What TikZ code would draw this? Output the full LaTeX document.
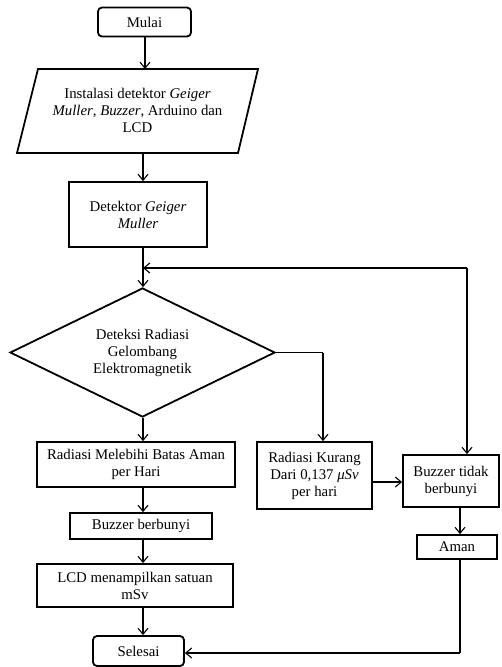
\documentclass[tikz,border=0pt]{standalone}
\usepackage{fontspec}
\setmainfont{Liberation Serif}
\usetikzlibrary{shapes.geometric,arrows.meta}
\begin{document}
\begin{tikzpicture}[x=1pt,y=-1pt,
  every node/.style={font=\fontsize{14.8}{17}\selectfont, align=center, inner sep=0pt},
  box/.style={draw, line width=1.8pt, rectangle},
  term/.style={box, rounded corners=4pt},
  arr/.style={line width=1.1pt, -{Straight Barb[length=6pt,width=10pt,line width=1.1pt]}},
  ln/.style={line width=1.1pt}]
\useasboundingbox (0,0) rectangle (501,667);
\node[term, minimum width=93pt, minimum height=29pt] (mulai) at (144.5,22) {Mulai};
% parallelogram
\coordinate (pTL) at (38,69);
\coordinate (pTR) at (258,69);
\coordinate (pBR) at (238,153);
\coordinate (pBL) at (17,153);
\draw[line width=1.8pt, line join=miter] (pTL) -- (pTR) -- (pBR) -- (pBL) -- cycle;
\node (inst) at (137.5,110) {Instalasi detektor \textit{Geiger}\\ \textit{Muller}, \textit{Buzzer}, Arduino dan\\ LCD};
\node[box, minimum width=138pt, minimum height=65pt] (det) at (138,214.5) {Detektor \textit{Geiger}\\ \textit{Muller}};
\node[draw, line width=1.8pt, diamond, aspect=2, minimum width=265pt, minimum height=129pt] (dec) at (142.5,352.5) {Deteksi Radiasi\\ Gelombang\\ Elektromagnetik};
\node[box, minimum width=198pt, minimum height=45pt] (b1) at (136,464.5) {Radiasi Melebihi Batas Aman\\ per Hari};
\node[box, minimum width=115pt, minimum height=67pt] (b2) at (314.5,475.5) {Radiasi Kurang\\ Dari 0,137 \textit{μSv}\\ per hari};
\node[box, minimum width=96pt, minimum height=52pt] (b3) at (451,481) {Buzzer tidak\\ berbunyi};
\node[box, minimum width=142pt, minimum height=26pt] (buz) at (141,526) {Buzzer berbunyi};
\node[box, minimum width=196pt, minimum height=43pt] (lcd) at (135,585.5) {LCD menampilkan satuan\\ mSv};
\node[box, minimum width=80pt, minimum height=24pt] (aman) at (457,547) {Aman};
\node[term, minimum width=91pt, minimum height=30pt] (sel) at (138.5,651) {Selesai};
% columns
\coordinate (colA) at (145,0);
\coordinate (colB) at (143,0);
\coordinate (loopL) at (143,268);
\coordinate (loopR) at (467,268);
\coordinate (decR) at (323,352.5);
\coordinate (colC) at (460,0);
\coordinate (amanB) at (460,653);
\coordinate (rowD) at (0,482);
% connectors
\draw[arr] (colA |- mulai.south) -- (colA |- pTL);
\draw[arr] (colB |- pBL) -- (colB |- det.north);
\draw[ln] (colB |- det.south) -- (loopL);
\draw[arr] (loopL) -- (colB |- dec.north);
\draw[arr] (loopR) -- (loopL);
\draw[arr] (loopR) -- (loopR |- b3.north);
\draw[arr] (colB |- dec.south) -- (colB |- b1.north);
\draw[ln] (dec.east) -- (decR);
\draw[arr] (decR) -- (decR |- b2.north);
\draw[arr] (b2.east |- rowD) -- (b3.west |- rowD);
\draw[arr] (colC |- b3.south) -- (colC |- aman.north);
\draw[ln] (colC |- aman.south) -- (amanB);
\draw[arr] (amanB) -- (sel.east |- amanB);
\draw[arr] (colB |- b1.south) -- (colB |- buz.north);
\draw[arr] (colB |- buz.south) -- (colB |- lcd.north);
\draw[arr] (colB |- lcd.south) -- (colB |- sel.north);
\end{tikzpicture}
\end{document}
